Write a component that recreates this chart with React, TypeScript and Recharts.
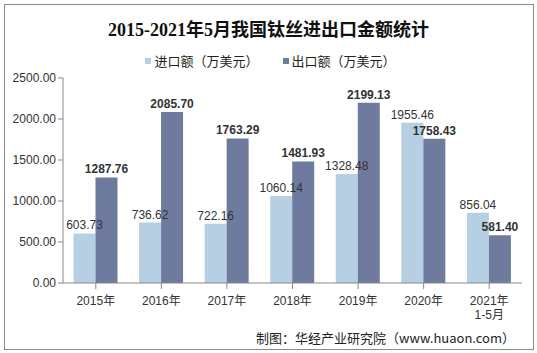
import React from "react";
import { BarChart, Bar, XAxis, YAxis, LabelList } from "recharts";

const categories = ["2015年", "2016年", "2017年", "2018年", "2019年", "2020年", "2021年\n1-5月"];
const importValues = [603.73, 736.62, 722.16, 1060.14, 1328.48, 1955.46, 856.04];
const exportValues = [1287.76, 2085.7, 1763.29, 1481.93, 2199.13, 1758.43, 581.4];
const yTicks = [0, 500, 1000, 1500, 2000, 2500];
const title = "2015-2021年5月我国钛丝进出口金额统计";
const importName = "进口额（万美元）";
const exportName = "出口额（万美元）";
const footer = "制图：华经产业研究院（www.huaon.com）";

const data = categories.map((c, i) => ({ name: c, imp: importValues[i], exp: exportValues[i] }));

const IMP = "#B6CFE3";
const EXP = "#6F7A9F";
const FONT = "Arial, 'Liberation Sans', 'Noto Sans CJK SC', sans-serif";

const XTick = (props: any) => {
  const { x, y, payload } = props;
  const lines = String(payload.value).split("\n");
  return (
    <g transform={`translate(${x},${y})`}>
      {lines.map((l: string, i: number) => (
        <text key={i} x={0} y={14 + i * 14} textAnchor="middle" fill="#333" fontSize={12} fontFamily={FONT}>
          {l}
        </text>
      ))}
    </g>
  );
};

export default function App() {
  return (
    <div style={{ position: "absolute", left: 0, top: 0, width: 537, height: 353, background: "#fff", fontFamily: FONT }}>
      <div style={{ position: "absolute", left: 4, top: 4, width: 528, height: 344, border: "1px solid #8a8a8a" }} />
      <div style={{ position: "absolute", left: 0, top: 15, width: 537, textAlign: "center", fontSize: 18, fontWeight: "bold", fontFamily: "'Liberation Serif', 'Noto Sans CJK SC', serif", color: "#111" }}>
        {title}
      </div>
      <div style={{ position: "absolute", left: 0, top: 51, width: 537, display: "flex", justifyContent: "center", fontSize: 13, color: "#222", fontFamily: "'Noto Sans CJK SC', sans-serif" }}>
        <div style={{ display: "flex", alignItems: "center", marginLeft: 4 }}>
          <span style={{ display: "inline-block", width: 6, height: 6, background: IMP, marginRight: 3 }} />
          <span>{importName}</span>
        </div>
        <div style={{ display: "flex", alignItems: "center", marginLeft: 24 }}>
          <span style={{ display: "inline-block", width: 6, height: 6, background: EXP, marginRight: 3 }} />
          <span>{exportName}</span>
        </div>
      </div>
      <div style={{ position: "absolute", left: 0, top: 0 }}>
        <BarChart width={537} height={353} data={data} margin={{ top: 78, right: 15, bottom: 40, left: 0 }} barCategoryGap="16%" barGap={0}>
          <XAxis dataKey="name" height={30} tick={<XTick />} axisLine={{ stroke: "#888" }} tickLine={{ stroke: "#888" }} interval={0} />
          <YAxis width={63} domain={[0, 2500]} ticks={yTicks} tickFormatter={(v: number) => v.toFixed(2)} tick={{ fill: "#333", fontSize: 12, fontFamily: FONT }} axisLine={{ stroke: "#888" }} tickLine={{ stroke: "#888" }} tickSize={5} />
          <Bar dataKey="imp" fill={IMP} isAnimationActive={false}>
            <LabelList dataKey="imp" position="top" offset={4} formatter={(v: number) => v.toFixed(2)} style={{ fill: "#333", fontSize: 12, fontFamily: FONT }} />
          </Bar>
          <Bar dataKey="exp" fill={EXP} isAnimationActive={false}>
            <LabelList dataKey="exp" position="top" offset={4} formatter={(v: number) => v.toFixed(2)} style={{ fill: "#333", fontSize: 12, fontWeight: "bold", fontFamily: FONT }} />
          </Bar>
        </BarChart>
      </div>
      <div style={{ position: "absolute", right: 22, top: 328, fontSize: 13, color: "#222", fontFamily: "'Noto Sans CJK SC', sans-serif" }}>
        {footer}
      </div>
    </div>
  );
}
